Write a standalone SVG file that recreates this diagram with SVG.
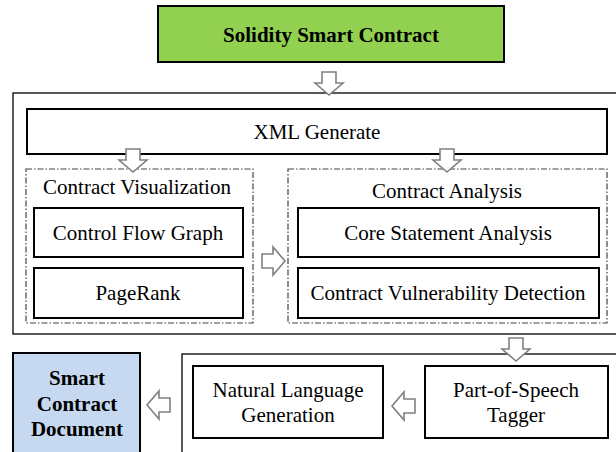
<svg xmlns="http://www.w3.org/2000/svg" xmlns:xlink="http://www.w3.org/1999/xlink" width="616" height="452" viewBox="0 0 616 452">
<defs>
<style>
text{font-family:"Liberation Serif","Times New Roman",serif;font-size:21px;fill:#000;text-anchor:middle}
.b{font-weight:bold}
.box{fill:#fff;stroke:#000;stroke-width:2}
.outer{fill:none;stroke:#000;stroke-width:1.3}
.dd{fill:none;stroke:#444;stroke-width:1.2;stroke-dasharray:6 2 1.5 2}
.arr{fill:#fff;stroke:#808080;stroke-width:1.6;stroke-linejoin:miter}
</style>
<path id="ad" d="M-7,-23 L7,-23 L7,-12 L14,-12 L0,0 L-14,-12 L-7,-12 Z"/>
</defs>
<rect width="616" height="452" fill="#fff"/>
<g id="outer-top"><rect class="outer" x="13" y="93" width="610" height="241"/></g>
<g id="outer-bottom"><rect class="outer" x="182" y="354" width="440" height="110"/></g>
<g id="solidity">
<rect x="158" y="6" width="346" height="56" fill="#92d050" stroke="#000" stroke-width="2"/>
<text class="b" x="331" y="42">Solidity Smart Contract</text>
</g>
<g id="xml">
<rect class="box" x="27" y="109" width="580" height="45"/>
<text x="317" y="139">XML Generate</text>
</g>
<g id="visualization">
<rect class="dd" x="26" y="169" width="227" height="154"/>
<text x="137" y="194">Contract Visualization</text>
</g>
<g id="cfg">
<rect class="box" x="34" y="208" width="209" height="49"/>
<text x="138" y="240">Control Flow Graph</text>
</g>
<g id="pagerank">
<rect class="box" x="34" y="268" width="209" height="50"/>
<text x="138" y="300">PageRank</text>
</g>
<g id="analysis">
<rect class="dd" x="288" y="169" width="319" height="154"/>
<text x="447" y="198">Contract Analysis</text>
</g>
<g id="core">
<rect class="box" x="298" y="208" width="301" height="49"/>
<text x="448" y="240">Core Statement Analysis</text>
</g>
<g id="vuln">
<rect class="box" x="298" y="268" width="301" height="50"/>
<text x="448" y="300">Contract Vulnerability Detection</text>
</g>
<g id="scd">
<rect x="13" y="353" width="127" height="110" fill="#c6d9f1" stroke="#000" stroke-width="2"/>
<text class="b" x="77" y="385">Smart</text>
<text class="b" x="77" y="411">Contract</text>
<text class="b" x="77" y="436">Document</text>
</g>
<g id="nlg">
<rect class="box" x="193" y="366" width="190" height="72"/>
<text x="288" y="397">Natural Language</text>
<text x="288" y="422">Generation</text>
</g>
<g id="pos">
<rect class="box" x="425" y="366" width="183" height="72"/>
<text x="516" y="397">Part-of-Speech</text>
<text x="516" y="422">Tagger</text>
</g>
<g id="connectors">
<use xlink:href="#ad" class="arr" transform="translate(329,95)"/>
<use xlink:href="#ad" class="arr" transform="translate(133,172)"/>
<use xlink:href="#ad" class="arr" transform="translate(447,172)"/>
<use xlink:href="#ad" class="arr" transform="translate(285,261) rotate(-90)"/>
<use xlink:href="#ad" class="arr" transform="translate(516,361)"/>
<use xlink:href="#ad" class="arr" transform="translate(392,406) rotate(90)"/>
<use xlink:href="#ad" class="arr" transform="translate(147,405) rotate(90)"/>
</g>
</svg>
